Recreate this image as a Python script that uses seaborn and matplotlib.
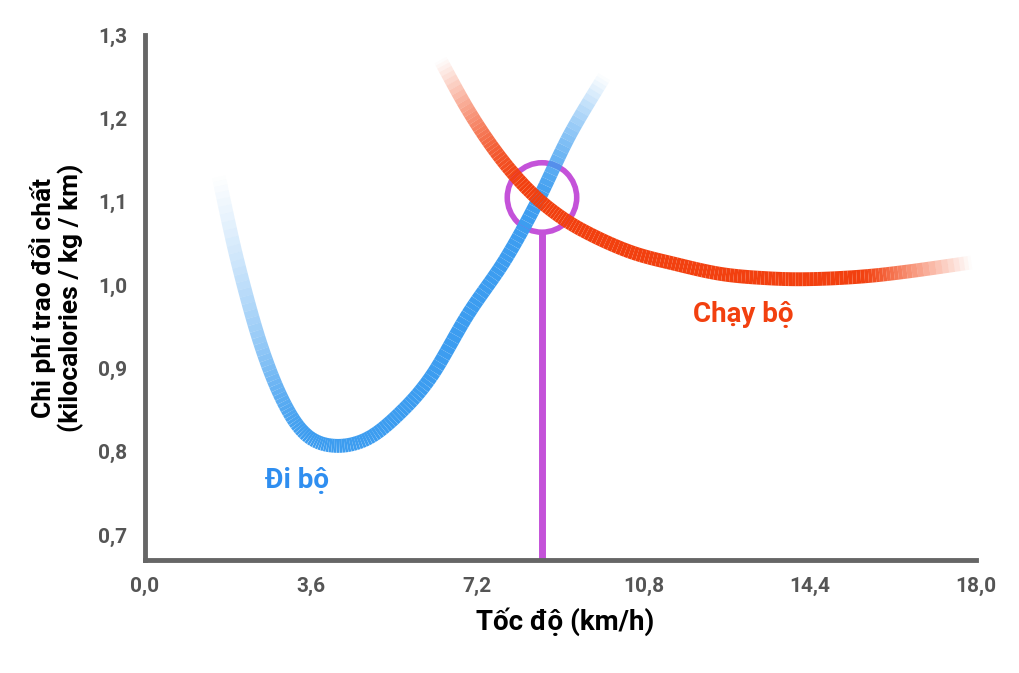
import numpy as np
import matplotlib.pyplot as plt
import seaborn as sns
from matplotlib.collections import LineCollection
from matplotlib.colors import to_rgba

# Walking curve (km/h, kcal/kg/km)
walk_x = [1.6, 2.0, 2.5, 3.0, 3.5, 4.1, 4.8, 5.5, 6.2, 7.0, 7.8, 8.5, 9.2, 9.95]
walk_y = [1.13, 1.03, 0.93, 0.86, 0.82, 0.807, 0.815, 0.845, 0.89, 0.965, 1.03, 1.10, 1.18, 1.25]
walk_alpha = [0.0, 0.25, 0.55, 0.85, 1, 1, 1, 1, 1, 1, 1, 1, 0.6, 0.0]

# Running curve
run_x = [6.4, 7.0, 7.6, 8.2, 8.8, 9.5, 10.5, 11.5, 12.5, 13.5, 14.4, 15.5, 16.5, 17.9]
run_y = [1.27, 1.21, 1.16, 1.12, 1.09, 1.065, 1.04, 1.025, 1.013, 1.008, 1.007, 1.01, 1.016, 1.027]
run_alpha = [0.0, 0.5, 0.85, 1, 1, 1, 1, 1, 1, 1, 1, 1, 0.6, 0.0]

cross_x, cross_y = 8.6, 1.105
xticks = [0.0, 3.6, 7.2, 10.8, 14.4, 18.0]
yticks = [0.7, 0.8, 0.9, 1.0, 1.1, 1.2, 1.3]

sns.set_theme(style="white", font="Roboto")
fig = plt.figure(figsize=(10.2, 6.73), dpi=100)
ax = fig.add_axes([0.142, 0.168, 0.824, 0.78])


def catmull(xs, ys, al, n=12):
    # smooth drawing path through the read points
    p = np.column_stack([xs, ys, al]).astype(float)
    p = np.vstack([p[0], p, p[-1]])
    out = []
    for i in range(1, len(p) - 2):
        p0, p1, p2, p3 = p[i - 1], p[i], p[i + 1], p[i + 2]
        for t in np.linspace(0, 1, n, endpoint=False):
            out.append(0.5 * (2 * p1 + (-p0 + p2) * t + (2 * p0 - 5 * p1 + 4 * p2 - p3) * t ** 2
                              + (-p0 + 3 * p1 - 3 * p2 + p3) * t ** 3))
    out.append(p[-2])
    return np.array(out)


def fade_line(xs, ys, alphas, color):
    pts = catmull(xs, ys, alphas)
    segs = np.stack([pts[:-1, :2], pts[1:, :2]], axis=1)
    base = to_rgba(color)
    a = np.clip((pts[:-1, 2] + pts[1:, 2]) / 2, 0, 1)
    cols = [(base[0], base[1], base[2], v) for v in a]
    lc = LineCollection(segs, colors=cols, linewidths=10, capstyle="butt", joinstyle="round")
    ax.add_collection(lc)


fade_line(walk_x, walk_y, walk_alpha, "#3d9df0")
fade_line(run_x, run_y, run_alpha, "#f2400f")

# crossover marker
ax.plot([cross_x, cross_x], [0.67, cross_y - 0.042], color="#c452d9", lw=5, solid_capstyle="butt")
sns.scatterplot(x=[cross_x], y=[cross_y], s=2500, facecolor="none", edgecolor="#c452d9",
                linewidth=4, ax=ax, legend=False)

ax.text(3.3, 0.765, "Đi bộ", color="#2f8ef0", fontsize=20, fontweight="bold", ha="center", va="center")
ax.text(12.95, 0.965, "Chạy bộ", color="#f2400f", fontsize=20, fontweight="bold", ha="center", va="center")

ax.set_xlim(0, 18.2)
ax.set_ylim(0.67, 1.3)
ax.set_xticks(xticks)
ax.set_xticklabels([f"{v:.1f}".replace(".", ",") for v in xticks])
ax.set_yticks(yticks)
ax.set_yticklabels([f"{v:.1f}".replace(".", ",") for v in yticks])
ax.tick_params(axis="both", colors="#666666", labelcolor="#555555", labelsize=15,
               length=9, width=3.5, direction="out")
for lab in ax.get_xticklabels() + ax.get_yticklabels():
    lab.set_fontweight("bold")
for side in ["top", "right"]:
    ax.spines[side].set_visible(False)
for side in ["left", "bottom"]:
    ax.spines[side].set_color("#666666")
    ax.spines[side].set_linewidth(3.5)
ax.spines["bottom"].set_bounds(0, 18)

ax.set_xlabel("Tốc độ (km/h)", fontsize=20, fontweight="bold", color="black", labelpad=8)
ax.set_ylabel("Chi phí trao đổi chất\n(kilocalories / kg / km)", fontsize=19,
              fontweight="bold", color="black", labelpad=10, linespacing=1.1)

fig.savefig("out.png", dpi=100)
